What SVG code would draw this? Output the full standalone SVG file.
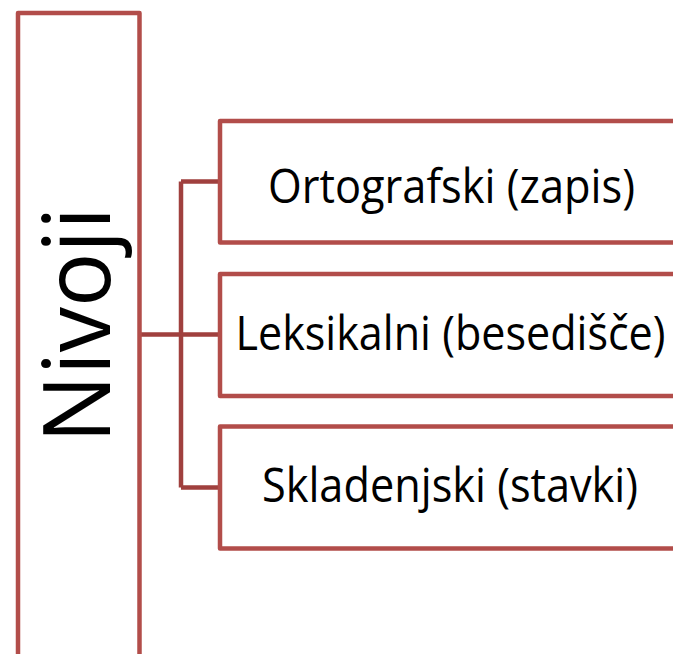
<svg xmlns="http://www.w3.org/2000/svg" width="673" height="654" viewBox="0 0 673 654">
<style>
.box{fill:#ffffff;stroke:#b24d4a;stroke-width:4.5;stroke-linejoin:round}
.conn{fill:none;stroke:#a0403e;stroke-width:4.5;stroke-linejoin:round}
.lbl{font-family:"Open Sans","Noto Sans",sans-serif;font-size:47px;fill:#000000;text-anchor:middle}
.title{font-family:"Open Sans","Noto Sans",sans-serif;font-size:94px;fill:#000000;text-anchor:middle}
</style>
<rect width="673" height="654" fill="#ffffff"/>
<g id="connectors">
<path class="conn" d="M139.5 334.5 H220 M181 181.5 V487.5 M181 181.5 H220 M181 487.5 H220"/>
</g>
<g id="nivoji">
<rect class="box" x="18" y="13" width="121.5" height="700"/>
<text class="title" transform="translate(109.5,325) rotate(-90)" textLength="236" lengthAdjust="spacingAndGlyphs">Nivoji</text>
</g>
<g id="ortografski">
<rect class="box" x="220" y="121" width="500" height="121.5"/>
<text class="lbl" x="451.5" y="203" textLength="367" lengthAdjust="spacingAndGlyphs">Ortografski (zapis)</text>
</g>
<g id="leksikalni">
<rect class="box" x="220" y="274" width="500" height="122"/>
<text class="lbl" x="450.5" y="350" textLength="430" lengthAdjust="spacingAndGlyphs">Leksikalni (besedišče)</text>
</g>
<g id="skladenjski">
<rect class="box" x="220" y="426.5" width="500" height="122"/>
<text class="lbl" x="450" y="502" textLength="376" lengthAdjust="spacingAndGlyphs">Skladenjski (stavki)</text>
</g>
</svg>
